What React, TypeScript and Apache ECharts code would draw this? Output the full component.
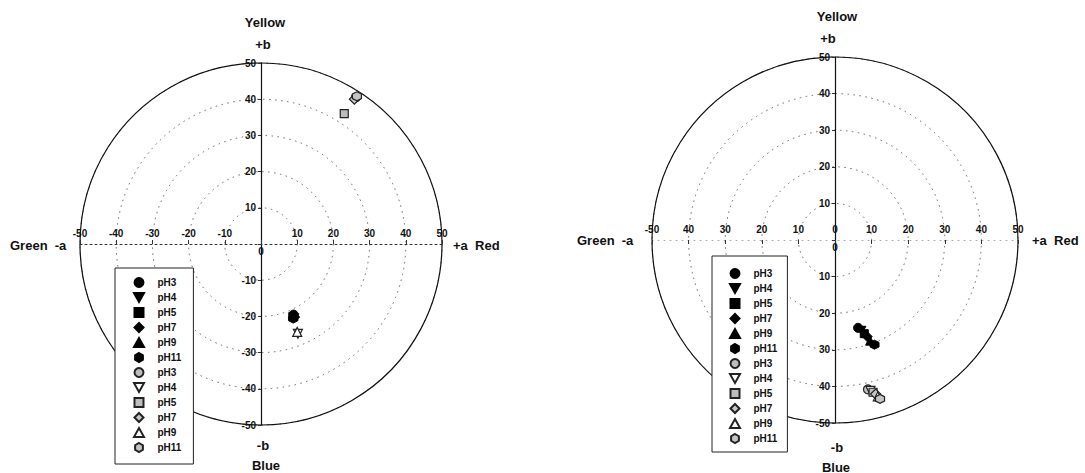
import React, { useEffect, useRef } from "react";
import * as echarts from "echarts";

const PH_LEVELS = ["pH3", "pH4", "pH5", "pH7", "pH9", "pH11"];

// left chart (a*, b*)
const leftSolidA = [9.0, 9.2, 8.8, 9.3, 9.0, 8.9];
const leftSolidB = [-19.5, -20.5, -20.0, -20.2, -19.8, -20.6];
const leftHatchA = [26.2, 10.2, 23.0, 25.8, 10.0, 26.5];
const leftHatchB = [40.5, -24.8, 36.0, 40.0, -24.3, 40.8];

// right chart (a*, b*)
const rightSolidA = [6.3, 7.2, 8.0, 8.8, 9.6, 10.8];
const rightSolidB = [-24.0, -24.8, -25.6, -26.4, -27.5, -28.6];
const rightHatchA = [9.0, 9.7, 10.4, 11.1, 11.7, 12.3];
const rightHatchB = [-40.8, -41.2, -41.6, -42.1, -42.7, -43.4];

const AXIS_MIN = -50;
const AXIS_MAX = 50;
const AXIS_STEP = 10;

const HEX = "path://M0,-1 L0.866,-0.5 L0.866,0.5 L0,1 L-0.866,0.5 L-0.866,-0.5 Z";
const TRI_DOWN = "path://M-1,-0.9 L1,-0.9 L0,0.9 Z";
const TRI_UP = "path://M-1,0.9 L1,0.9 L0,-0.9 Z";
const SQUARE = "path://M-1,-1 L1,-1 L1,1 L-1,1 Z";
const DIAMOND = "path://M0,-1 L1,0 L0,1 L-1,0 Z";
const SYMBOLS = ["circle", TRI_DOWN, SQUARE, DIAMOND, TRI_UP, HEX];
const SIZES = [9, 9, 8, 10, 9, 9];
const HATCH_FILL = ["#bdbdbd", "#ffffff", "#bdbdbd", "#c8c8c8", "#ffffff", "#c4c4c4"];

const FONT = "Liberation Sans, Arial, sans-serif";

export default function App() {
  const ref = useRef<HTMLDivElement>(null);

  useEffect(() => {
    document.body.style.margin = "0";
    const chart = echarts.init(ref.current!, null, { renderer: "svg" });

    const charts = [
      { cx: 261, cy: 244, r: 181, solidA: leftSolidA, solidB: leftSolidB, hatchA: leftHatchA, hatchB: leftHatchB, absLabels: false, zeroAbove: false },
      { cx: 835, cy: 240, r: 183, solidA: rightSolidA, solidB: rightSolidB, hatchA: rightHatchA, hatchB: rightHatchB, absLabels: true, zeroAbove: true },
    ];

    const grid: any[] = [];
    const xAxis: any[] = [];
    const yAxis: any[] = [];
    const polar: any[] = [];
    const angleAxis: any[] = [];
    const radiusAxis: any[] = [];
    const series: any[] = [];
    const legend: any[] = [];

    const legendPos = [
      { left: 115, top: 268, padding: [9, 12, 11, 18] },
      { left: 712, top: 256, padding: [12, 10, 8, 17] },
    ];

    charts.forEach((c, gi) => {
      grid.push({ left: c.cx - c.r, top: c.cy - c.r, width: 2 * c.r, height: 2 * c.r, containLabel: false });
      polar.push({ center: [c.cx, c.cy], radius: c.r });
      angleAxis.push({
        polarIndex: gi, type: "value", min: 0, max: 360, startAngle: 90,
        axisLine: { show: true, lineStyle: { color: "#111", width: 1.2 } },
        axisTick: { show: false }, axisLabel: { show: false }, splitLine: { show: false },
      });
      radiusAxis.push({
        polarIndex: gi, type: "value", min: 0, max: AXIS_MAX, interval: AXIS_STEP,
        axisLine: { show: false }, axisTick: { show: false }, axisLabel: { show: false },
        splitLine: { show: true, lineStyle: { color: "#666", width: 1, type: [1.5, 4.5] } },
      });

      const fmtY = (v: number) => {
        if (v === 0) return "";
        if (c.absLabels && v !== AXIS_MIN) return String(Math.abs(v));
        return String(v);
      };
      const fmtX = (v: number) => {
        if (v === 0) return c.zeroAbove ? "0" : "";
        if (c.absLabels && v !== AXIS_MIN) return String(Math.abs(v));
        return String(v);
      };
      const labelStyle = { fontFamily: FONT, fontSize: 10, fontWeight: "bold", color: "#111" };

      const yIdx = yAxis.length;
      yAxis.push({
        gridIndex: gi, type: "value", min: AXIS_MIN, max: AXIS_MAX, interval: AXIS_STEP,
        position: "left", offset: -c.r,
        axisLine: { show: true, onZero: false, lineStyle: { color: "#111", width: 1.2 } },
        axisTick: { show: true, length: 3, inside: false, lineStyle: { color: "#333" } },
        axisLabel: { ...labelStyle, margin: 5, formatter: fmtY, showMinLabel: true, showMaxLabel: true },
        splitLine: { show: false },
      });
      const xIdx = xAxis.length;
      xAxis.push({
        gridIndex: gi, type: "value", min: AXIS_MIN, max: AXIS_MAX, interval: AXIS_STEP,
        position: "bottom", offset: -c.r,
        axisLine: {
          show: true, onZero: false,
          lineStyle: gi === 0 ? { color: "#333", width: 1, type: [2, 3] } : { color: "#aaa", width: 1, type: [1, 5] },
        },
        axisTick: { show: true, length: 4, inside: gi === 0, lineStyle: { color: "#333" } },
        axisLabel: { ...labelStyle, inside: true, margin: 6, formatter: fmtX, showMinLabel: true, showMaxLabel: true },
        splitLine: { show: false },
      });
      xAxis.push({
        gridIndex: gi, type: "value", min: AXIS_MIN, max: AXIS_MAX, interval: AXIS_STEP,
        position: "bottom", offset: -c.r,
        axisLine: { show: false, onZero: false },
        axisTick: { show: false },
        axisLabel: { ...labelStyle, inside: false, margin: 2, formatter: (v: number) => (v === 0 ? "0" : "") },
        splitLine: { show: false },
      });

      const names: string[] = [];
      PH_LEVELS.forEach((ph, i) => {
        const name = `${ph}|${gi}|s`;
        names.push(name);
        series.push({
          type: "scatter", name, xAxisIndex: xIdx, yAxisIndex: yIdx,
          symbol: SYMBOLS[i], symbolSize: SIZES[i],
          itemStyle: { color: "#000", borderColor: "#000", borderWidth: 1, opacity: 1 },
          data: [[c.solidA[i], c.solidB[i]]],
          z: 5,
        });
      });
      PH_LEVELS.forEach((ph, i) => {
        const name = `${ph}|${gi}|h`;
        names.push(name);
        series.push({
          type: "scatter", name, xAxisIndex: xIdx, yAxisIndex: yIdx,
          symbol: SYMBOLS[i], symbolSize: SIZES[i],
          itemStyle: { color: HATCH_FILL[i], borderColor: "#222", borderWidth: 1.2, opacity: 1 },
          data: [[c.hatchA[i], c.hatchB[i]]],
          z: 6,
        });
      });

      legend.push({
        data: names,
        orient: "vertical",
        left: legendPos[gi].left,
        top: legendPos[gi].top,
        padding: legendPos[gi].padding,
        itemWidth: 27,
        itemHeight: 9,
        itemGap: 4,
        backgroundColor: "#fff",
        borderColor: "#222",
        borderWidth: 1,
        borderRadius: 0,
        selectedMode: false,
        formatter: (n: string) => n.split("|")[0],
        textStyle: { fontFamily: FONT, fontSize: 10, fontWeight: "bold", color: "#111" },
      });
    });

    const txt = (x: number, y: number, text: string, align = "center") => ({
      type: "text", x, y,
      style: { text, fontFamily: FONT, fontSize: 13, fontWeight: "bold", fill: "#111", align, verticalAlign: "middle" },
      z: 10,
    });

    const graphic = [
      txt(265, 22, "Yellow"), txt(263, 44, "+b"), txt(263, 445, "-b"), txt(266, 465, "Blue"),
      txt(10, 245, "Green  -a", "left"), txt(453, 245, "+a  Red", "left"),
      txt(837, 16, "Yellow"), txt(828, 38, "+b"), txt(837, 447, "-b"), txt(836, 467, "Blue"),
      txt(577, 240, "Green  -a", "left"), txt(1032, 240, "+a  Red", "left"),
    ];

    chart.setOption({
      animation: false,
      backgroundColor: "#fff",
      grid, xAxis, yAxis, polar, angleAxis, radiusAxis, series, legend, graphic,
    });

    return () => chart.dispose();
  }, []);

  return <div ref={ref} style={{ width: 1085, height: 473 }} />;
}
